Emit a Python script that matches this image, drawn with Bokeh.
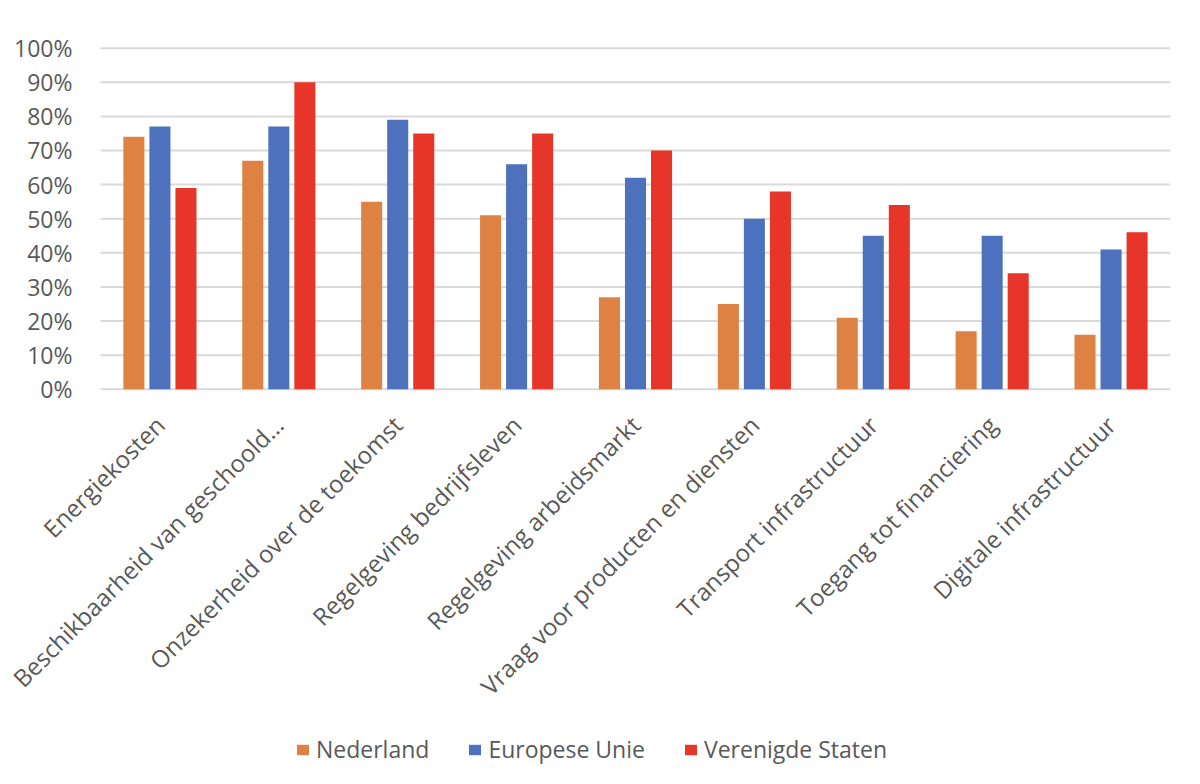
import math
from bokeh.plotting import figure
from bokeh.models import ColumnDataSource, Range1d, FixedTicker, Legend, LegendItem
from bokeh.transform import dodge
from bokeh.embed import file_html
from bokeh.resources import INLINE

categories = [
    "Energiekosten",
    "Beschikbaarheid van geschoold…",
    "Onzekerheid over de toekomst",
    "Regelgeving bedrijfsleven",
    "Regelgeving arbeidsmarkt",
    "Vraag voor producten en diensten",
    "Transport infrastructuur",
    "Toegang tot financiering",
    "Digitale infrastructuur",
]
nederland = [74, 67, 55, 51, 27, 25, 21, 17, 16]
europese_unie = [77, 77, 79, 66, 62, 50, 45, 45, 41]
verenigde_staten = [59, 90, 75, 75, 70, 58, 54, 34, 46]
series_names = ["Nederland", "Europese Unie", "Verenigde Staten"]
y_ticks = [0, 10, 20, 30, 40, 50, 60, 70, 80, 90, 100]

colors = ["#DE8244", "#4E71BE", "#E8352A"]
text_color = "#595959"
grid_color = "#D9D9D9"

x_idx = list(range(len(categories)))
src = ColumnDataSource(data=dict(x=x_idx, nl=nederland, eu=europese_unie, us=verenigde_staten))

# the frame covers the whole page so the rotated labels, the y labels and the
# legend are all inside it (nothing gets clipped); axes sit at fixed locations
p = figure(x_range=Range1d(-1.341, x_idx[-1] + 0.5), y_range=Range1d(-113.5, 104),
           frame_width=1170, frame_height=742, output_backend="svg", toolbar_location=None,
           min_border_left=0, min_border_right=14, min_border_top=34, min_border_bottom=0)

# grid lines only over the category area
p.segment(x0=x_idx[0] - 0.5, y0=y_ticks, x1=x_idx[-1] + 0.5, y1=y_ticks,
          line_color=grid_color, line_width=2)

renderers = []
for key, off, col in zip(["nl", "eu", "us"], [-0.219, 0.0, 0.219], colors):
    r = p.vbar(x=dodge("x", off), top=key, width=0.177, source=src,
               fill_color=col, line_color=None)
    renderers.append(r)

p.outline_line_color = None
p.xgrid.grid_line_color = None
p.ygrid.grid_line_color = None

p.yaxis.fixed_location = x_idx[0] - 0.5
p.yaxis.ticker = FixedTicker(ticks=y_ticks)
p.yaxis.major_label_overrides = {t: f"{t}%" for t in y_ticks}
p.yaxis.axis_line_color = None
p.yaxis.major_tick_line_color = None
p.yaxis.minor_tick_line_color = None
p.yaxis.major_tick_out = 0
p.yaxis.major_label_standoff = 28
p.yaxis.major_label_text_font = "Open Sans"
p.yaxis.major_label_text_font_size = "23px"
p.yaxis.major_label_text_color = text_color

p.xaxis.fixed_location = 0
p.xaxis.ticker = FixedTicker(ticks=x_idx)
p.xaxis.major_label_overrides = {i: c for i, c in zip(x_idx, categories)}
p.xaxis.axis_line_color = None
p.xaxis.major_tick_line_color = None
p.xaxis.minor_tick_line_color = None
p.xaxis.major_tick_out = 0
p.xaxis.major_label_standoff = 31
p.xaxis.major_label_orientation = math.pi / 4
p.xaxis.major_label_text_font = "Open Sans"
p.xaxis.major_label_text_font_size = "24px"
p.xaxis.major_label_text_color = text_color

legend = Legend(items=[LegendItem(label=n, renderers=[r]) for n, r in zip(series_names, renderers)],
                orientation="horizontal", location=(295, 11),
                glyph_width=15, glyph_height=13, label_standoff=6, spacing=38,
                padding=0, margin=0, border_line_color=None, background_fill_alpha=0,
                label_text_font="Open Sans", label_text_font_size="23px", label_text_color=text_color)
p.add_layout(legend, "center")

open("out.html", "w").write(file_html(p, INLINE))
